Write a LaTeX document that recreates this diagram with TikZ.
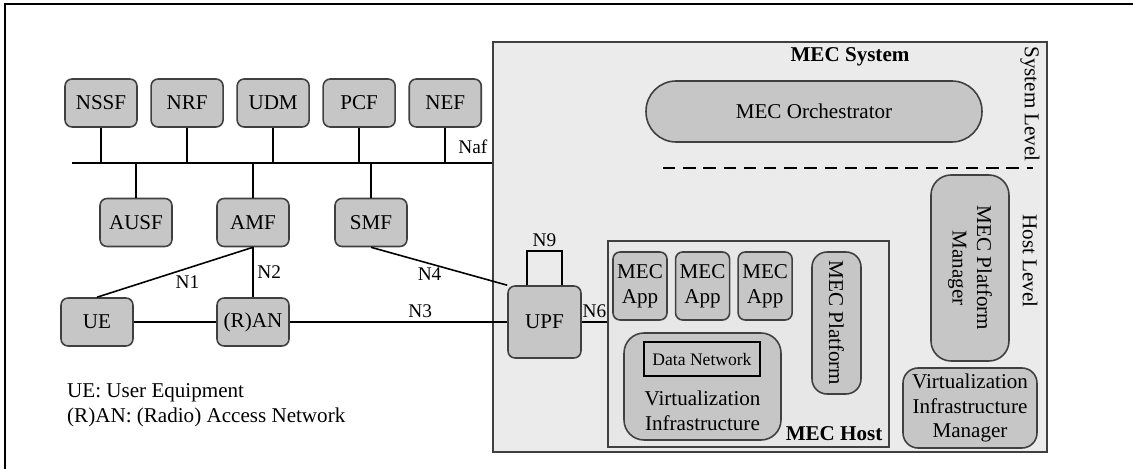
\documentclass[tikz,border=0pt]{standalone}
\usepackage{fontspec}
\setmainfont{Liberation Serif}
\usetikzlibrary{positioning}

\definecolor{boxgray}{RGB}{198,198,198}
\definecolor{sysgray}{RGB}{235,235,235}
\definecolor{hostgray}{RGB}{231,231,231}

\begin{document}
\begin{tikzpicture}[x = 0.02cm, y = -0.02cm,
	font = \fontsize{12}{14}\selectfont,
	nf/.style = {draw = black!75, line width = 0.9pt, fill = boxgray, rounded corners = 4pt,
		minimum width = 1.44cm, minimum height = 0.96cm, inner sep = 1pt},
	mec/.style = {nf, align = center},
	app/.style = {mec, minimum width = 1.08cm, minimum height = 1.36cm},
	frame/.style = {draw = black!75, line width = 0.9pt, inner sep = 0pt},
	link/.style = {line width = 0.9pt},
	iface/.style = {font = \fontsize{11}{13}\selectfont, inner sep = 2pt},
	title/.style = {font = \fontsize{12}{14}\selectfont\bfseries}]

	% Page frame

	\useasboundingbox (0, 0) rectangle (1133, 469);
	\draw [line width = 1.5pt] (1133, 4) -- (5, 4) -- (5, 469);

	% MEC system and host frames

	\node [frame, fill = sysgray, minimum width = 11.08cm, minimum height = 8.2cm] (mecsys) at (770, 247) {};
	\node [title] (systitle) at (850, 57) {MEC System};
	\node [frame, fill = hostgray, minimum width = 5.62cm, minimum height = 4.12cm] (mechost) at (748.5, 344) {};
	\node [title, anchor = south east, inner sep = 4pt] (hosttitle) at (mechost.south east) {MEC Host};

	% 5G core functions

	\node [nf] (nssf) at (101, 103) {NSSF};
	\node [nf, right = 0.25cm of nssf] (nrf) {NRF};
	\node [nf, right = 0.25cm of nrf] (udm) {UDM};
	\node [nf, right = 0.25cm of udm] (pcf) {PCF};
	\node [nf, right = 0.25cm of pcf] (nef) {NEF};

	\node [nf] (ausf) at (136, 222.5) {AUSF};
	\node [nf] (amf) at (253, 222.5) {AMF};
	\node [nf] (smf) at (371, 222.5) {SMF};

	\node [nf] (ue) at (97, 322) {UE};
	\node [nf] (ran) at (253, 322) {(R)AN};
	\node [nf, minimum width = 1.46cm, minimum height = 1.44cm] (upf) at (544.5, 322) {UPF};

	% Service based bus

	\coordinate (busL) at (72, 163);
	\draw [link] (busL) -- (busL -| mecsys.west);
	\foreach \fn in {nssf, nrf, udm, pcf, ausf, amf, smf}
		\draw [link] (\fn) -- (\fn |- busL);
	\draw [link] (nef) -- (nef |- busL) node [iface, pos = 0.55, right = 5pt] {Naf};

	% Reference points

	\draw [link] (amf.south) -- (ue.north) node [iface, pos = 0.42, below = 2pt] {N1};
	\draw [link] (amf.south) -- (ran.north) node [iface, midway, right] {N2};
	\draw [link] (ue) -- (ran);
	\draw [link] (ran) -- (upf) node [iface, pos = 0.6, above] {N3};
	\draw [link] (smf.south) -- (upf.north west) node [iface, pos = 0.43, below] {N4};
	\draw [link] (upf.east) -- (upf.east -| mechost.west) node [iface, midway, above] {N6};
	\draw [link] ([xshift = -0.35cm] upf.north) -- ++(0, 0.68cm) -| ([xshift = 0.35cm] upf.north)
		node [iface, pos = 0.25, above] {N9};

	% MEC host contents

	\node [app] (app1) at (640, 286) {MEC\\App};
	\node [app, right = 0.14cm of app1] (app2) {MEC\\App};
	\node [app, right = 0.14cm of app2] (app3) {MEC\\App};
	\node [mec, rotate = -90, rounded corners = 0.3cm, minimum width = 2.84cm, minimum height = 0.98cm] (platform) at (836.5, 323) {MEC Platform};

	\node [mec, rounded corners = 0.4cm, minimum width = 3.14cm, minimum height = 2.14cm] (virt) at (702.5, 386.5) {};
	\node [align = center, anchor = south, inner sep = 0pt] (virttext) at ([yshift = 0.2cm] virt.south) {Virtualization\\Infrastructure};
	\node [draw = black, line width = 0.9pt, fill = boxgray, minimum width = 2.32cm, minimum height = 0.68cm,
		font = \fontsize{10}{12}\selectfont] (dn) at (702, 359) {Data Network};

	% System level / host level

	\node [mec, rounded corners = 0.6cm, minimum width = 6.72cm, minimum height = 1.22cm] (orch) at (814, 111.5) {MEC Orchestrator};
	\coordinate (lvlL) at (663, 168);
	\coordinate (lvlR) at (1033, 168);
	\draw [line width = 0.9pt, dash pattern = on 7pt off 4.5pt] (lvlL) -- (lvlR);
	\node [rotate = -90] (syslvl) at (1030, 104) {System Level};
	\node [rotate = -90] (hostlvl) at (1030, 261) {Host Level};

	\node [mec, rotate = -90, rounded corners = 0.4cm, minimum width = 3.72cm, minimum height = 1.56cm] (mepm) at (970, 268) {MEC Platform\\Manager};
	\node [mec, rounded corners = 0.3cm, minimum width = 2.68cm, minimum height = 1.6cm] (vim) at (970, 408) {Virtualization\\Infrastructure\\Manager};

	% Legend

	\node [align = left, anchor = west] (legend) at (61, 405.5) {UE: User Equipment\\(R)AN: (Radio) Access Network};

\end{tikzpicture}
\end{document}
